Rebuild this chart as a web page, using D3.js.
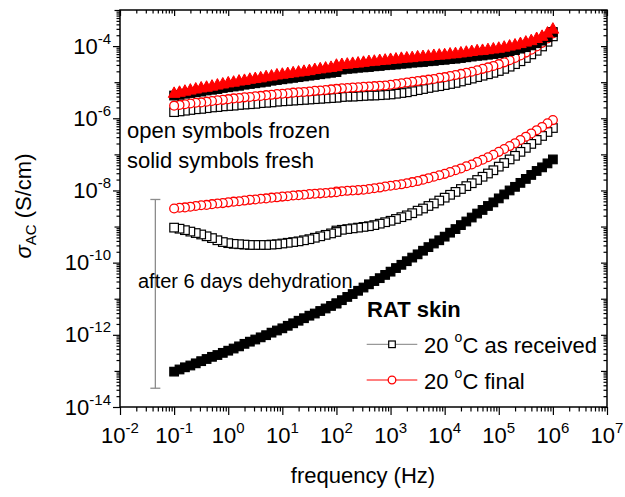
<!DOCTYPE html>
<html>
<head>
<meta charset="utf-8">
<script src="https://cdn.jsdelivr.net/npm/d3@7"></script>
<style>
  body { margin: 0; background: #fff; }
  svg { display: block; }
  text { font-family: "Liberation Sans", Arial, sans-serif; fill: #000; }
</style>
</head>
<body>
<svg id="chart" width="625" height="497"></svg>
<script>
// log10(frequency / Hz): low-frequency sweep and high-frequency sweep
const logFreqLow = [-1.0,-0.9,-0.8,-0.7,-0.6,-0.5,-0.4,-0.3,-0.2,-0.1,0.0,0.1,0.2,0.3,0.4,0.5,0.6,0.7,0.8,0.9,1.0,1.1,1.2,1.3,1.4,1.5,1.6,1.7,1.8,1.9,2.0];
const logFreqHigh = [2.0,2.1,2.2,2.3,2.4,2.5,2.6,2.7,2.8,2.9,3.0,3.1,3.2,3.3,3.4,3.5,3.6,3.7,3.8,3.9,4.0,4.1,4.2,4.3,4.4,4.5,4.6,4.7,4.8,4.9,5.0,5.1,5.2,5.3,5.4,5.5,5.6,5.7,5.8,5.9,6.0];

// log10(sigma_AC / (S/cm)) — fresh and frozen skin, as received and final
const freshReceivedLow  = [-5.37,-5.35,-5.32,-5.30,-5.28,-5.26,-5.23,-5.21,-5.19,-5.16,-5.14,-5.12,-5.10,-5.07,-5.05,-5.03,-5.01,-4.99,-4.96,-4.94,-4.92,-4.90,-4.88,-4.86,-4.84,-4.82,-4.80,-4.78,-4.76,-4.74,-4.72];
const freshReceivedHigh = [-4.66,-4.65,-4.63,-4.62,-4.60,-4.59,-4.58,-4.56,-4.55,-4.53,-4.52,-4.51,-4.49,-4.48,-4.46,-4.45,-4.44,-4.42,-4.41,-4.39,-4.38,-4.36,-4.35,-4.33,-4.31,-4.29,-4.27,-4.26,-4.24,-4.22,-4.20,-4.17,-4.14,-4.11,-4.07,-4.03,-3.98,-3.92,-3.85,-3.75,-3.61];
const freshFinalLow  = [-5.31,-5.28,-5.25,-5.22,-5.19,-5.16,-5.14,-5.11,-5.08,-5.05,-5.02,-5.00,-4.97,-4.95,-4.92,-4.90,-4.88,-4.85,-4.83,-4.80,-4.78,-4.76,-4.74,-4.72,-4.70,-4.68,-4.65,-4.63,-4.61,-4.59,-4.57];
const freshFinalHigh = [-4.53,-4.51,-4.50,-4.48,-4.47,-4.45,-4.43,-4.42,-4.40,-4.39,-4.37,-4.36,-4.34,-4.33,-4.32,-4.30,-4.29,-4.28,-4.26,-4.25,-4.24,-4.22,-4.21,-4.19,-4.17,-4.15,-4.13,-4.12,-4.10,-4.08,-4.06,-4.03,-4.00,-3.97,-3.93,-3.89,-3.85,-3.79,-3.73,-3.64,-3.53];
const frozenReceivedLow  = [-5.83,-5.81,-5.79,-5.77,-5.75,-5.74,-5.72,-5.70,-5.69,-5.67,-5.66,-5.65,-5.63,-5.62,-5.61,-5.60,-5.58,-5.57,-5.56,-5.54,-5.53,-5.52,-5.51,-5.50,-5.49,-5.48,-5.47,-5.46,-5.45,-5.44,-5.43];
const frozenReceivedHigh = [-5.42,-5.41,-5.40,-5.40,-5.39,-5.38,-5.37,-5.37,-5.36,-5.35,-5.34,-5.32,-5.30,-5.28,-5.25,-5.22,-5.19,-5.16,-5.13,-5.11,-5.08,-5.05,-5.02,-4.98,-4.94,-4.90,-4.86,-4.82,-4.78,-4.74,-4.69,-4.63,-4.57,-4.50,-4.42,-4.33,-4.23,-4.13,-4.01,-3.88,-3.73];
const frozenFinalLow  = [-5.65,-5.63,-5.61,-5.59,-5.57,-5.56,-5.54,-5.52,-5.50,-5.49,-5.47,-5.45,-5.44,-5.42,-5.41,-5.39,-5.38,-5.36,-5.35,-5.33,-5.32,-5.31,-5.29,-5.28,-5.27,-5.26,-5.24,-5.23,-5.22,-5.20,-5.19];
const frozenFinalHigh = [-5.18,-5.17,-5.16,-5.15,-5.14,-5.13,-5.12,-5.11,-5.10,-5.09,-5.07,-5.05,-5.03,-5.01,-4.99,-4.97,-4.95,-4.93,-4.91,-4.88,-4.86,-4.83,-4.80,-4.77,-4.74,-4.71,-4.67,-4.63,-4.59,-4.55,-4.50,-4.45,-4.39,-4.33,-4.26,-4.18,-4.10,-4.01,-3.91,-3.79,-3.65];

// after 6 days dehydration
const dryFreshReceivedLow  = [-13.02,-12.96,-12.90,-12.85,-12.79,-12.73,-12.67,-12.61,-12.56,-12.50,-12.44,-12.38,-12.32,-12.25,-12.19,-12.13,-12.07,-12.01,-11.94,-11.88,-11.82,-11.75,-11.68,-11.61,-11.54,-11.47,-11.41,-11.34,-11.27,-11.20,-11.13];
const dryFreshReceivedHigh = [-11.13,-11.04,-10.95,-10.87,-10.78,-10.69,-10.60,-10.51,-10.43,-10.34,-10.25,-10.15,-10.06,-9.96,-9.86,-9.77,-9.67,-9.57,-9.47,-9.38,-9.28,-9.17,-9.07,-8.96,-8.86,-8.75,-8.64,-8.54,-8.43,-8.33,-8.22,-8.11,-8.00,-7.90,-7.79,-7.68,-7.57,-7.46,-7.36,-7.25,-7.14];
const dryFrozenReceivedLow  = [-9.03,-9.06,-9.10,-9.14,-9.18,-9.22,-9.27,-9.32,-9.38,-9.43,-9.46,-9.48,-9.49,-9.50,-9.51,-9.51,-9.51,-9.51,-9.50,-9.49,-9.47,-9.45,-9.43,-9.41,-9.38,-9.35,-9.31,-9.27,-9.23,-9.19,-9.15];
const dryFrozenReceivedHigh = [-9.11,-9.09,-9.07,-9.05,-9.03,-9.01,-8.99,-8.96,-8.92,-8.88,-8.84,-8.79,-8.74,-8.69,-8.63,-8.56,-8.50,-8.43,-8.36,-8.28,-8.20,-8.12,-8.04,-7.96,-7.88,-7.80,-7.71,-7.62,-7.53,-7.44,-7.34,-7.24,-7.14,-7.04,-6.93,-6.82,-6.71,-6.60,-6.49,-6.38,-6.27];
const dryFrozenFinalLow  = [-8.50,-8.48,-8.47,-8.45,-8.43,-8.41,-8.40,-8.38,-8.36,-8.35,-8.33,-8.31,-8.30,-8.28,-8.26,-8.25,-8.23,-8.22,-8.20,-8.19,-8.17,-8.16,-8.14,-8.13,-8.12,-8.10,-8.09,-8.08,-8.07,-8.06,-8.05];
const dryFrozenFinalHigh = [-8.03,-8.02,-8.01,-8.00,-7.99,-7.98,-7.96,-7.94,-7.92,-7.89,-7.87,-7.85,-7.83,-7.80,-7.77,-7.74,-7.70,-7.66,-7.62,-7.58,-7.54,-7.49,-7.44,-7.39,-7.33,-7.28,-7.21,-7.15,-7.08,-7.01,-6.93,-6.85,-6.77,-6.69,-6.60,-6.51,-6.42,-6.33,-6.24,-6.14,-6.05];

// range bar marking the dehydration drop
const dropBarFreq = 0.045;
const dropBarRange = [-13.48, -8.25];

// axis decades
const xDecades = [-2,-1,0,1,2,3,4,5,6,7];
const yDecades = [-14,-13,-12,-11,-10,-9,-8,-7,-6,-5,-4,-3];
const yLabelDecades = [-14,-12,-10,-8,-6,-4];

const legendTitle = "RAT skin";
const legendItems = ["as received", "final"];

const margin = { left: 120, right: 607, top: 10, bottom: 407 };
const svg = d3.select("#chart");

const x = d3.scaleLog().domain([1e-2, 1e7]).range([margin.left, margin.right]);
const y = d3.scaleLog().domain([1e-14, 1e-3]).range([margin.bottom, margin.top]);

const RED = "#ff0000";

function minorsOf(decades) {
  const out = [];
  for (let i = 0; i < decades.length - 1; i++)
    for (let k = 2; k <= 9; k++) out.push(k * Math.pow(10, decades[i]));
  return out;
}
const xMajor = xDecades.map(e => Math.pow(10, e));
const yMajor = yDecades.map(e => Math.pow(10, e));
const xMinor = minorsOf(xDecades);
const yMinor = minorsOf(yDecades);

function drawAxis(gen, transform) {
  const g = svg.append("g").attr("transform", transform).call(gen);
  g.select(".domain").remove();
  g.selectAll("line").attr("stroke", "#000").attr("stroke-width", 1.2);
  return g;
}
const noLabel = () => "";

// bottom (outward)
drawAxis(d3.axisBottom(x).tickValues(xMajor).tickSize(8).tickFormat(noLabel), `translate(0,${margin.bottom})`);
drawAxis(d3.axisBottom(x).tickValues(xMinor).tickSize(4.5).tickFormat(noLabel), `translate(0,${margin.bottom})`);
// top (inward)
drawAxis(d3.axisTop(x).tickValues(xMajor).tickSize(-6).tickFormat(noLabel), `translate(0,${margin.top})`);
drawAxis(d3.axisTop(x).tickValues(xMinor).tickSize(-3.5).tickFormat(noLabel), `translate(0,${margin.top})`);
// left (outward)
drawAxis(d3.axisLeft(y).tickValues(yLabelDecades.map(e => Math.pow(10, e))).tickSize(7).tickFormat(noLabel), `translate(${margin.left},0)`);
drawAxis(d3.axisLeft(y).tickValues(yDecades.filter(e => !yLabelDecades.includes(e)).map(e => Math.pow(10, e))).tickSize(5.5).tickFormat(noLabel), `translate(${margin.left},0)`);
drawAxis(d3.axisLeft(y).tickValues(yMinor).tickSize(3.5).tickFormat(noLabel), `translate(${margin.left},0)`);
// right (inward)
drawAxis(d3.axisRight(y).tickValues(yMajor).tickSize(-6).tickFormat(noLabel), `translate(${margin.right},0)`);
drawAxis(d3.axisRight(y).tickValues(yMinor).tickSize(-3.5).tickFormat(noLabel), `translate(${margin.right},0)`);

// frame
svg.append("rect")
  .attr("x", margin.left).attr("y", margin.top)
  .attr("width", margin.right - margin.left).attr("height", margin.bottom - margin.top)
  .attr("fill", "none").attr("stroke", "#000").attr("stroke-width", 1.5);

// tick labels as powers of ten
function powerLabel(sel, exp) {
  sel.append("tspan").text("10");
  sel.append("tspan").attr("font-size", 15).attr("dy", -10).text(String(exp));
}
xDecades.forEach(e => {
  const t = svg.append("text").attr("x", x(Math.pow(10, e))).attr("y", 443)
    .attr("text-anchor", "middle").attr("font-size", 22);
  powerLabel(t, e);
});
yLabelDecades.forEach(e => {
  const t = svg.append("text").attr("x", 111).attr("y", y(Math.pow(10, e)) + 7.6)
    .attr("text-anchor", "end").attr("font-size", 22);
  powerLabel(t, e);
});

// axis titles
svg.append("text").attr("x", 363).attr("y", 483).attr("text-anchor", "middle")
  .attr("font-size", 22).text("frequency (Hz)");
const yt = svg.append("text").attr("transform", "translate(31,206) rotate(-90)")
  .attr("text-anchor", "middle").attr("font-size", 22);
yt.append("tspan").attr("font-style", "italic").text("σ");
yt.append("tspan").attr("font-size", 15).attr("dy", 5).text("AC");
yt.append("tspan").attr("dy", -5).text(" (S/cm)");

// marker shapes
const SQ = 8.6;
function drawMarker(g, kind, cx, cy, stroke, fill) {
  if (kind === "square") {
    g.append("rect").attr("x", cx - SQ / 2).attr("y", cy - SQ / 2).attr("width", SQ).attr("height", SQ)
      .attr("fill", fill).attr("stroke", stroke).attr("stroke-width", 1.2);
  } else if (kind === "circle") {
    g.append("circle").attr("cx", cx).attr("cy", cy).attr("r", 4.4)
      .attr("fill", fill).attr("stroke", stroke).attr("stroke-width", 1.3);
  } else if (kind === "triangle") {
    g.append("path").attr("d", `M${cx},${cy - 6.5}L${cx + 5.8},${cy + 4}L${cx - 5.8},${cy + 4}Z`)
      .attr("fill", fill).attr("stroke", stroke).attr("stroke-width", 1);
  }
}

function series(low, high) {
  return logFreqLow.map((lf, i) => ({ f: Math.pow(10, lf), s: Math.pow(10, low[i]) }))
    .concat(logFreqHigh.map((lf, i) => ({ f: Math.pow(10, lf), s: Math.pow(10, high[i]) })));
}

const plots = [
  { pts: series(dryFreshReceivedLow, dryFreshReceivedHigh), kind: "square", stroke: "#000", fill: "#000", line: "#808080" },
  { pts: series(dryFrozenReceivedLow, dryFrozenReceivedHigh), kind: "square", stroke: "#000", fill: "#fff", line: "#808080" },
  { pts: series(dryFrozenFinalLow, dryFrozenFinalHigh), kind: "circle", stroke: RED, fill: "#fff", line: RED },
  { pts: series(frozenReceivedLow, frozenReceivedHigh), kind: "square", stroke: "#000", fill: "#fff", line: "#808080" },
  { pts: series(frozenFinalLow, frozenFinalHigh), kind: "circle", stroke: RED, fill: "#fff", line: RED },
  { pts: series(freshReceivedLow, freshReceivedHigh), kind: "square", stroke: "#000", fill: "#000", line: "#808080" },
  { pts: series(freshFinalLow, freshFinalHigh), kind: "triangle", stroke: RED, fill: RED, line: RED }
];

const lineGen = d3.line().x(d => x(d.f)).y(d => y(d.s));
plots.forEach(p => {
  const g = svg.append("g");
  g.append("path").attr("d", lineGen(p.pts)).attr("fill", "none")
    .attr("stroke", p.line).attr("stroke-width", 0.8);
  // high-frequency end first so lower frequencies sit on top
  p.pts.slice().reverse().forEach(d => drawMarker(g, p.kind, x(d.f), y(d.s), p.stroke, p.fill));
});

// dehydration range bar
const barX = x(dropBarFreq);
const barTop = y(Math.pow(10, dropBarRange[1]));
const barBot = y(Math.pow(10, dropBarRange[0]));
const bar = svg.append("g").attr("stroke", "#8c8c8c").attr("stroke-width", 1.3);
bar.append("line").attr("x1", barX).attr("x2", barX).attr("y1", barTop).attr("y2", barBot);
bar.append("line").attr("x1", barX - 5).attr("x2", barX + 5).attr("y1", barTop).attr("y2", barTop);
bar.append("line").attr("x1", barX - 5).attr("x2", barX + 5).attr("y1", barBot).attr("y2", barBot);

// annotations
svg.append("text").attr("x", 127).attr("y", 138).attr("font-size", 22).text("open symbols frozen");
svg.append("text").attr("x", 127).attr("y", 168).attr("font-size", 22).text("solid symbols fresh");
svg.append("text").attr("x", 138).attr("y", 287.5).attr("font-size", 20).text("after 6 days dehydration");

// legend
svg.append("text").attr("x", 367).attr("y", 316.7).attr("font-size", 22)
  .attr("font-weight", "bold").text(legendTitle);
const legendRows = [
  { label: legendItems[0], kind: "square", stroke: "#000", line: "#808080", y: 344.3 },
  { label: legendItems[1], kind: "circle", stroke: RED, line: RED, y: 380 }
];
legendRows.forEach(r => {
  const g = svg.append("g");
  g.append("line").attr("x1", 366.7).attr("x2", 417.3).attr("y1", r.y).attr("y2", r.y)
    .attr("stroke", r.line).attr("stroke-width", 1);
  if (r.kind === "square") {
    g.append("rect").attr("x", 392 - 3.3).attr("y", r.y - 3.3).attr("width", 6.6).attr("height", 6.6)
      .attr("fill", "#fff").attr("stroke", r.stroke).attr("stroke-width", 1.2);
  } else {
    g.append("circle").attr("cx", 392).attr("cy", r.y).attr("r", 3.8)
      .attr("fill", "#fff").attr("stroke", r.stroke).attr("stroke-width", 1.3);
  }
  const t = svg.append("text").attr("x", 424).attr("y", r.y + 8.5).attr("font-size", 22);
  t.append("tspan").text("20 ");
  t.append("tspan").attr("font-size", 14).attr("dy", -11).text("o");
  t.append("tspan").attr("dy", 11).text("C " + r.label);
});
</script>
</body>
</html>
